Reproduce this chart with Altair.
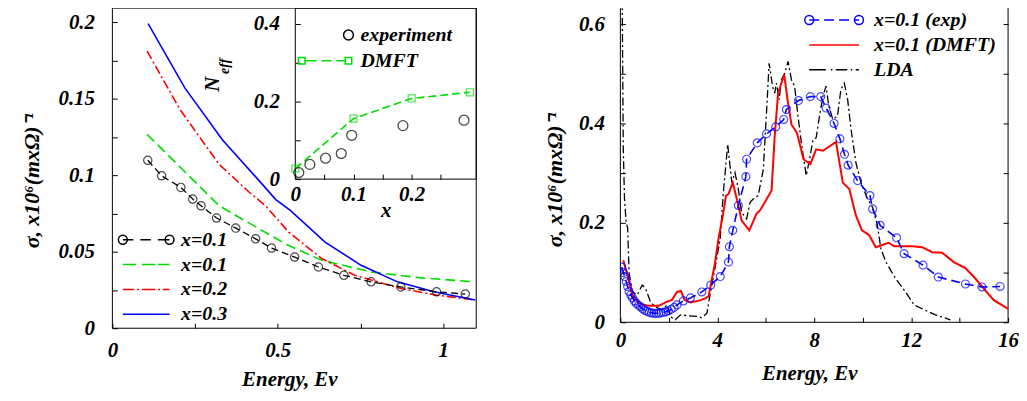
import json
import altair as alt
import pandas as pd

FONT = "Liberation Serif, Times New Roman, serif"
GREEN = "#00dd00"
RED = "#ff0000"
BLUE = "#0000ff"

# ---------------- left panel: sigma(E) ----------------
EXP_E = [0.107, 0.149, 0.207, 0.243, 0.268, 0.315, 0.373, 0.433, 0.481, 0.551, 0.623, 0.700, 0.782, 0.872, 0.980, 1.067]
EXP_S = [0.1097, 0.0996, 0.0920, 0.0844, 0.0800, 0.0720, 0.0654, 0.0584, 0.0524, 0.0465, 0.0400, 0.0346, 0.0303, 0.0270, 0.0238, 0.0223]
G01_E = [0.105, 0.213, 0.323, 0.443, 0.533, 0.633, 0.782, 0.932, 1.097]
G01_S = [0.1266, 0.1035, 0.0800, 0.0650, 0.0540, 0.0444, 0.0368, 0.0329, 0.0303]
R02_E = [0.105, 0.204, 0.273, 0.323, 0.413, 0.463, 0.533, 0.633, 0.733, 0.872, 0.982, 1.097]
R02_S = [0.181, 0.143, 0.122, 0.107, 0.089, 0.080, 0.0628, 0.0455, 0.0346, 0.0260, 0.0216, 0.0184]
B03_E = [0.108, 0.219, 0.333, 0.434, 0.494, 0.538, 0.643, 0.752, 0.862, 0.972, 1.097]
B03_S = [0.199, 0.157, 0.123, 0.0987, 0.084, 0.077, 0.0563, 0.0411, 0.0303, 0.0238, 0.0184]

# ---------------- inset: N_eff(x) ----------------
IN_EXP_X = [0.006, 0.025, 0.052, 0.079, 0.097, 0.185, 0.290]
IN_EXP_N = [0.017, 0.038, 0.054, 0.066, 0.113, 0.138, 0.152]
IN_DMFT_X = [0.0, 0.1, 0.2, 0.3]
IN_DMFT_N = [0.027, 0.156, 0.208, 0.224]

# ---------------- right panel ----------------
RE_E = [0.05, 0.12, 0.18, 0.24, 0.30, 0.36, 0.43, 0.50, 0.58, 0.66, 0.75, 0.83, 0.92, 1.01, 1.10, 1.19,
        1.28, 1.38, 1.48, 1.58, 1.68, 1.78, 1.88, 1.98, 2.10, 2.22, 2.34, 2.60, 2.89, 3.36, 3.73, 4.12,
        4.46, 4.50, 4.64, 4.87, 5.18, 5.21, 5.65, 6.03, 6.41, 6.74, 6.85, 7.35, 7.84, 8.27, 8.49, 8.82,
        9.06, 9.25, 9.40, 9.79, 10.30, 10.41, 10.72, 11.40, 11.71, 12.49, 13.12, 14.24, 14.92, 15.67]
RE_S = [0.111, 0.100, 0.092, 0.082, 0.072, 0.062, 0.055, 0.049, 0.043, 0.038, 0.034, 0.031, 0.027, 0.024, 0.022, 0.020,
        0.019, 0.018, 0.018, 0.018, 0.019, 0.020, 0.021, 0.023, 0.026, 0.030, 0.035, 0.043, 0.049, 0.061, 0.075, 0.092,
        0.121, 0.152, 0.185, 0.235, 0.293, 0.328, 0.361, 0.379, 0.393, 0.408, 0.428, 0.446, 0.454, 0.454, 0.431, 0.400,
        0.369, 0.338, 0.316, 0.285, 0.255, 0.228, 0.195, 0.170, 0.138, 0.115, 0.091, 0.077, 0.071, 0.072]
RD_E = [0.12, 0.29, 0.49, 0.77, 1.18, 1.59, 1.86, 2.13, 2.34, 2.50, 2.65, 2.89, 3.29, 3.50, 3.64, 3.77, 3.91,
        4.05, 4.23, 4.36, 4.46, 4.64, 4.87, 5.00, 5.32, 5.62, 5.76, 5.92, 6.24, 6.37, 6.51, 6.76, 6.92, 7.06,
        7.29, 7.56, 7.84, 8.08, 8.36, 8.90, 9.18, 9.45, 9.72, 9.97, 10.27, 10.54, 11.07, 11.30, 12.05, 12.46,
        12.87, 13.28, 13.76, 14.24, 14.65, 14.99, 15.40, 16.00]
RD_S = [0.125, 0.095, 0.055, 0.038, 0.033, 0.033, 0.040, 0.045, 0.061, 0.063, 0.045, 0.040, 0.044, 0.048, 0.052, 0.085, 0.121,
        0.168, 0.215, 0.255, 0.258, 0.281, 0.235, 0.205, 0.185, 0.218, 0.225, 0.238, 0.265, 0.375, 0.461, 0.498, 0.441, 0.398,
        0.381, 0.328, 0.318, 0.348, 0.345, 0.363, 0.281, 0.268, 0.215, 0.185, 0.175, 0.151, 0.160, 0.153, 0.153, 0.151,
        0.141, 0.140, 0.121, 0.109, 0.088, 0.068, 0.045, 0.027]
RL_E = [0.04, 0.08, 0.12, 0.17, 0.24, 0.30, 0.36, 0.49, 0.70, 0.90, 1.04, 1.24, 1.45, 1.72, 1.93, 2.07, 2.27, 2.48,
        2.82, 3.16, 3.36, 3.57, 3.70, 3.91, 4.12, 4.25, 4.43, 4.60, 4.73, 4.87, 5.00, 5.21, 5.35, 5.48, 5.69, 5.90,
        6.03, 6.14, 6.28, 6.37, 6.44, 6.55, 6.65, 6.78, 6.92, 7.06, 7.19, 7.33, 7.47, 7.67, 7.81, 7.95, 8.08, 8.22,
        8.36, 8.49, 8.60, 8.77, 8.96, 9.10, 9.24, 9.38, 9.52, 9.72, 9.93, 10.20, 10.41, 10.61, 10.75, 10.96, 11.36,
        11.77, 12.12, 12.73, 13.00, 13.62]
RL_S = [0.900, 0.620, 0.350, 0.250, 0.200, 0.190, 0.100, 0.061, 0.055, 0.075, 0.068, 0.041, 0.031, 0.025, 0.035, 0.011, 0.005, 0.015,
        0.013, 0.012, 0.009, 0.018, 0.055, 0.110, 0.168, 0.261, 0.358, 0.281, 0.301, 0.268, 0.221, 0.208, 0.241, 0.248, 0.255, 0.308,
        0.421, 0.521, 0.475, 0.461, 0.481, 0.448, 0.488, 0.501, 0.525, 0.488, 0.475, 0.415, 0.361, 0.295, 0.328, 0.368, 0.371, 0.415,
        0.455, 0.475, 0.435, 0.408, 0.415, 0.468, 0.481, 0.448, 0.388, 0.321, 0.281, 0.248, 0.231, 0.195, 0.148, 0.121, 0.088,
        0.061, 0.035, 0.021, 0.015, 0.005]

# ---------------- ticks & labels ----------------
LY_TICKS = [0, 0.025, 0.05, 0.075, 0.1, 0.125, 0.15, 0.175, 0.2]
LY_LABELS = ["0", "", "0.05", "", "0.1", "", "0.15", "", "0.2"]
LX_TICKS = [0, 0.25, 0.5, 0.75, 1.0]
LX_LABELS = ["0", "", "0.5", "", "1"]
IX_TICKS = [0, 0.05, 0.1, 0.15, 0.2, 0.25]
IX_LABELS = ["0", "", "0.1", "", "0.2", ""]
IY_TICKS = [0, 0.1, 0.2, 0.3, 0.4]
IY_LABELS = ["0", "", "0.2", "", "0.4"]
RX_TICKS = [0, 2, 4, 6, 8, 10, 12, 14, 16]
RX_LABELS = ["0", "", "4", "", "8", "", "12", "", "16"]
RY_TICKS = [0, 0.1, 0.2, 0.3, 0.4, 0.5, 0.6]
RY_LABELS = ["0", "", "0.2", "", "0.4", "", "0.6"]

YTITLE = "σ, x10⁶(mxΩ)⁻¹"
XTITLE = "Energy, Ev"

LEG_KEYS = ["x=0.1", "x=0.1 ", "x=0.2", "x=0.3"]
IN_KEYS = ["experiment", "DMFT"]
R_KEYS = ["x=0.1 (exp)", "x=0.1 (DMFT)", "LDA"]


def lexpr(ticks, labels):
    return f"{json.dumps(labels)}[indexof({json.dumps(ticks)}, datum.value)]"


def ax(**kw):
    base = dict(labelFont=FONT, labelFontSize=21, labelFontWeight="bold", labelFontStyle="italic",
                labelColor="black", titleFont=FONT, titleFontSize=21, titleFontWeight="bold",
                titleFontStyle="italic", titleColor="black", tickColor="black", tickWidth=1,
                grid=False, domain=False, labelFlush=False, labelOverlap=False)
    base.update(kw)
    return alt.Axis(**base)


SYM = 144           # legend symbol nominal size (12 px); paths are drawn wider than it
SYM_W = 12


def leg(x, y, rowpad, offset):
    return alt.Legend(orient="none", legendX=x, legendY=y, title=None, padding=0, rowPadding=rowpad,
                      labelOffset=offset, symbolSize=SYM, symbolStrokeWidth=1.5,
                      symbolFillColor="transparent", symbolOpacity=1, labelFont=FONT, labelFontSize=20,
                      labelFontWeight="bold", labelFontStyle="italic", labelColor="black", labelLimit=300)


# legend-symbol path helpers (unit coordinates along [-1, 1] of the sample, scaled by k)
def segs(pairs, k):
    return "".join(f"M{a * k:.3f} 0H{b * k:.3f}" for a, b in pairs)


def circ(cx, r, k):
    return (f"M{(cx - r) * k:.3f} 0A{r * k:.3f} {r * k:.3f} 0 1 0 {(cx + r) * k:.3f} 0"
            f"A{r * k:.3f} {r * k:.3f} 0 1 0 {(cx - r) * k:.3f} 0")


def sq(cx, h, k):
    return f"M{(cx - h) * k:.3f} {-h * k:.3f}H{(cx + h) * k:.3f}V{h * k:.3f}H{(cx - h) * k:.3f}Z"


def frame(x, y):
    return pd.DataFrame({"E": x, "S": y})


ONE = pd.DataFrame({"v": [0]})

LW, LH = 366, 322
RW, RH = 390, 316
lx = alt.Scale(domain=[0, 1.1], nice=False, zero=False)
ly = alt.Scale(domain=[0, 0.2091], nice=False)
ix = alt.Scale(domain=[0, 0.311], range=[184, 366], nice=False, zero=False)
iy = alt.Scale(domain=[0, 0.441], range=[172, 0], nice=False)
rx = alt.Scale(domain=[0, 16], nice=False)
ry = alt.Scale(domain=[0, 0.632], nice=False)


def xy(ch, xs, ys, xaxis=None, yaxis=None):
    return ch.encode(x=alt.X("E:Q", scale=xs, axis=xaxis), y=alt.Y("S:Q", scale=ys, axis=yaxis))


# ---------- left main ----------
l_frame = alt.Chart(ONE).mark_rect(filled=False, color="black", strokeWidth=1).encode(
    x=alt.XDatum(0, type="quantitative", scale=lx, axis=None), x2=alt.X2Datum(1.1),
    y=alt.YDatum(0, type="quantitative", scale=ly, axis=None), y2=alt.Y2Datum(0.2091))
l_green = xy(alt.Chart(frame(G01_E, G01_S)).mark_line(color=GREEN, strokeDash=[10, 5], strokeWidth=1.6, clip=True), lx, ly,
             xaxis=ax(orient="bottom", offset=-5, tickSize=5, values=LX_TICKS, labelExpr=lexpr(LX_TICKS, LX_LABELS),
                      labelPadding=11, title=XTITLE, titleX=178, titleY=63, titleBaseline="alphabetic", titleAlign="center"),
             yaxis=ax(orient="left", offset=-5, tickSize=5, values=LY_TICKS, labelExpr=lexpr(LY_TICKS, LY_LABELS),
                      labelPadding=18, title=YTITLE, titleFontSize=22, titleAngle=270, titleAlign="center",
                      titleBaseline="alphabetic", titleX=-79, titleY=173))
l_red = xy(alt.Chart(frame(R02_E, R02_S)).mark_line(color=RED, strokeDash=[9, 3, 2, 3], strokeWidth=1.6, clip=True), lx, ly)
l_blue = xy(alt.Chart(frame(B03_E, B03_S)).mark_line(color=BLUE, strokeWidth=1.6, clip=True), lx, ly)
l_expl = xy(alt.Chart(frame(EXP_E, EXP_S)).mark_line(color="black", strokeDash=[7, 4], strokeWidth=1.3, clip=True), lx, ly)
l_expp = xy(alt.Chart(frame(EXP_E, EXP_S)).mark_point(shape="circle", filled=False, size=70, color="black", strokeWidth=1.2, clip=True), lx, ly)

KL = 23.5 / (SYM_W / 2)   # 47 px wide samples
LEG_PATHS = [circ(-1, 0.19, KL) + circ(1, 0.19, KL) + segs([(-1, -0.55), (-0.25, 0.2), (0.5, 1)], KL),
             segs([(-1, -0.43), (-0.18, 0.39), (0.51, 1)], KL),
             segs([(-1, -0.51), (-0.39, -0.31), (-0.18, 0.39), (0.51, 0.59), (0.71, 1)], KL),
             segs([(-1, 1)], KL)]
leg_df = pd.DataFrame({"key": LEG_KEYS, "E": [EXP_E[0], G01_E[0], R02_E[0], B03_E[0]],
                       "S": [EXP_S[0], G01_S[0], R02_S[0], B03_S[0]]})
L_LEG = leg(24, 223, 5, 25)
l_leg = alt.Chart(leg_df).mark_point(opacity=0, filled=False, size=SYM).encode(
    x=alt.X("E:Q", scale=lx, axis=None), y=alt.Y("S:Q", scale=ly, axis=None),
    color=alt.Color("key:N", scale=alt.Scale(domain=LEG_KEYS, range=["black", GREEN, RED, BLUE]), legend=L_LEG),
    shape=alt.Shape("key:N", scale=alt.Scale(domain=LEG_KEYS, range=LEG_PATHS), legend=L_LEG))

main = alt.layer(l_frame, l_green, l_red, l_blue, l_expl, l_expp, l_leg).resolve_axis(x="independent", y="independent")

# ---------- inset ----------
i_frame = alt.Chart(ONE).mark_rect(filled=False, color="black", strokeWidth=1).encode(
    x=alt.XDatum(0, type="quantitative", scale=ix, axis=None), x2=alt.X2Datum(0.311),
    y=alt.YDatum(0, type="quantitative", scale=iy, axis=None), y2=alt.Y2Datum(0.441))
i_line = xy(alt.Chart(frame(IN_DMFT_X, IN_DMFT_N)).mark_line(color=GREEN, strokeDash=[8, 4], strokeWidth=1.6), ix, iy,
            xaxis=ax(orient="bottom", offset=-155, tickSize=5, values=IX_TICKS, labelExpr=lexpr(IX_TICKS, IX_LABELS),
                     labelPadding=5, title="x", titleY=43, titleBaseline="alphabetic"),
            yaxis=ax(orient="left", offset=-189, tickSize=5, values=IY_TICKS, labelExpr=lexpr(IY_TICKS, IY_LABELS),
                     labelPadding=16, title="N", titleAngle=270, titleAlign="center", titleBaseline="alphabetic",
                     titleX=-82, titleY=76))
i_sq = xy(alt.Chart(frame(IN_DMFT_X, IN_DMFT_N)).mark_point(shape="square", filled=False, size=50, color=GREEN, strokeWidth=1.2), ix, iy)
i_exp = xy(alt.Chart(frame(IN_EXP_X, IN_EXP_N)).mark_point(shape="circle", filled=False, size=100, color="black", strokeWidth=1.3), ix, iy,
           yaxis=ax(orient="left", offset=-189, ticks=False, labels=False, title="eff", titleFontSize=14,
                    titleAngle=270, titleAlign="center", titleBaseline="alphabetic", titleX=-72, titleY=58))
KI = 23.5 / (SYM_W / 2)
IN_PATHS = ["M" + f"{-KI:.3f}" + " 0" + circ(1, 0.21, KI),
            sq(-1, 0.14, KI) + sq(1, 0.14, KI) + segs([(-0.86, -0.36), (-0.15, 0.27), (0.48, 0.86)], KI)]
in_leg_df = pd.DataFrame({"ikey": IN_KEYS, "E": [IN_EXP_X[0], IN_DMFT_X[0]], "S": [IN_EXP_N[0], IN_DMFT_N[0]]})
I_LEG = leg(204, 17, 6, 25.5)
i_leg = alt.Chart(in_leg_df).mark_point(opacity=0, filled=False, size=SYM).encode(
    x=alt.X("E:Q", scale=ix, axis=None), y=alt.Y("S:Q", scale=iy, axis=None),
    color=alt.Color("ikey:N", scale=alt.Scale(domain=IN_KEYS, range=["black", GREEN]), legend=I_LEG),
    shape=alt.Shape("ikey:N", scale=alt.Scale(domain=IN_KEYS, range=IN_PATHS), legend=I_LEG))

inset = alt.layer(i_frame, i_line, i_sq, i_exp, i_leg).resolve_axis(x="independent", y="independent")

left = alt.layer(main, inset).resolve_scale(x="independent", y="independent", color="independent",
                                            shape="independent").properties(width=LW, height=LH)

# ---------- right panel ----------
r_l = alt.Chart(ONE).mark_rule(color="black", strokeWidth=1).encode(x=alt.XDatum(0, type="quantitative", scale=rx, axis=None))
r_r = alt.Chart(ONE).mark_rule(color="black", strokeWidth=1).encode(x=alt.XDatum(16, type="quantitative", scale=rx, axis=None))
r_b = alt.Chart(ONE).mark_rule(color="black", strokeWidth=1).encode(y=alt.YDatum(0, type="quantitative", scale=ry, axis=None))
r_lda = xy(alt.Chart(frame(RL_E, RL_S)).mark_line(color="black", strokeDash=[8, 3, 2, 3], strokeWidth=1.3, clip=True), rx, ry)
r_dmft = xy(alt.Chart(frame(RD_E, RD_S)).mark_line(color=RED, strokeWidth=2, clip=True), rx, ry,
            xaxis=ax(orient="bottom", offset=-5, tickSize=5, values=RX_TICKS, labelExpr=lexpr(RX_TICKS, RX_LABELS),
                     labelPadding=7, title=XTITLE, titleX=190, titleY=63, titleBaseline="alphabetic", titleAlign="center"),
            yaxis=ax(orient="left", offset=-5, tickSize=5, values=RY_TICKS, labelExpr=lexpr(RY_TICKS, RY_LABELS),
                     labelPadding=16, title=YTITLE, titleFontSize=22, titleAngle=270, titleAlign="center",
                     titleBaseline="alphabetic", titleX=-64, titleY=172))
r_expl = xy(alt.Chart(frame(RE_E, RE_S)).mark_line(color=BLUE, strokeDash=[9, 5], strokeWidth=1.6, clip=True), rx, ry)
r_expp = xy(alt.Chart(frame(RE_E, RE_S)).mark_point(shape="circle", filled=False, size=64, color=BLUE, strokeWidth=1.2, clip=True), rx, ry,
            yaxis=ax(orient="right", offset=-5, tickSize=5, values=RY_TICKS, labels=False, title=None))
KR = 25 / (SYM_W / 2)   # 50 px wide samples
R_PATHS = [circ(-1, 0.18, KR) + circ(1, 0.18, KR) + segs([(-1, -0.6), (-0.4, 0), (0.2, 0.6), (0.8, 1)], KR),
           segs([(-1, 1)], KR),
           segs([(-1, -0.33), (-0.13, -0.07), (0.07, 0.53), (0.67, 0.73), (0.87, 1)], KR)]
r_leg_df = pd.DataFrame({"rkey": R_KEYS, "E": [RE_E[0], RD_E[0], RL_E[5]], "S": [RE_S[0], RD_S[0], RL_S[5]]})
R_LEG = leg(205, 2, 5, 30.2)
r_leg = alt.Chart(r_leg_df).mark_point(opacity=0, filled=False, size=SYM).encode(
    x=alt.X("E:Q", scale=rx, axis=None), y=alt.Y("S:Q", scale=ry, axis=None),
    color=alt.Color("rkey:N", scale=alt.Scale(domain=R_KEYS, range=[BLUE, RED, "black"]), legend=R_LEG),
    shape=alt.Shape("rkey:N", scale=alt.Scale(domain=R_KEYS, range=R_PATHS), legend=R_LEG))

right = alt.layer(r_l, r_r, r_b, r_lda, r_dmft, r_expl, r_expp, r_leg).resolve_axis(
    x="independent", y="independent").properties(width=RW, height=RH)

chart = alt.hconcat(left, right, spacing=145, bounds="flush").resolve_scale(
    color="independent", shape="independent").properties(
    padding={"left": 13, "top": -2, "right": 0, "bottom": 0}).configure_view(strokeWidth=0)

chart.save("out.html", embed_options={"renderer": "svg", "actions": False})
